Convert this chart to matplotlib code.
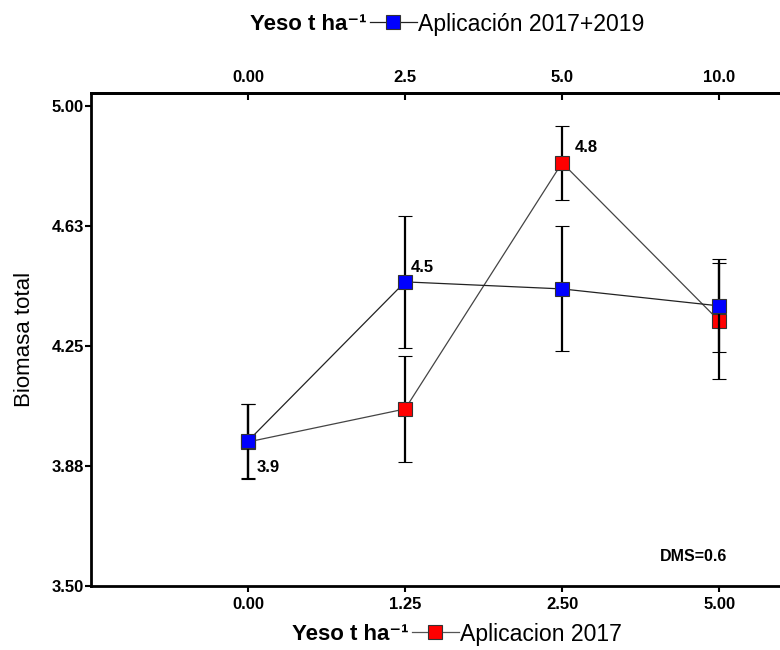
import matplotlib
matplotlib.use('Agg')
import matplotlib.pyplot as plt
from matplotlib.lines import Line2D

plt.rcParams['font.family'] = ['Liberation Sans', 'DejaVu Sans']
NARROW = dict(family=['Liberation Sans Narrow', 'Liberation Sans'], fontweight='bold')

# dosis de yeso (ejes inferior y superior)
x_pos = [0, 1, 2, 3]
dosis_2017 = ['0.00', '1.25', '2.50', '5.00']
dosis_2019 = ['0.00', '2.5', '5.0', '10.0']

# biomasa total y error
bio_2017 = [3.95, 4.053, 4.822, 4.328]
err_2017 = [0.117, 0.167, 0.115, 0.180]
bio_2019 = [3.953, 4.45, 4.428, 4.375]
err_2019 = [0.117, 0.206, 0.195, 0.145]

y_ticks = [3.5, 3.875, 4.25, 4.625, 5.0]
y_labels = ['3.50', '3.88', '4.25', '4.63', '5.00']

fig = plt.figure(figsize=(7.8, 6.5), dpi=100)
ax = fig.add_axes([91 / 780, 1 - 586 / 650, 691 / 780, 493 / 650])

ax.errorbar(x_pos, bio_2017, yerr=err_2017, color='#444444', lw=0.9,
            marker='s', ms=10, mfc='#ff0000', mec='#333333', mew=0.8,
            ecolor='black', elinewidth=1.6, capsize=5, capthick=1.6, zorder=3)
ax.errorbar(x_pos, bio_2019, yerr=err_2019, color='#222222', lw=0.9,
            marker='s', ms=10, mfc='#0000ff', mec='#333333', mew=0.8,
            ecolor='black', elinewidth=1.6, capsize=5, capthick=1.6, zorder=4)

lbl = dict(fontsize=12, fontweight='bold', textcoords='offset points')
ax.annotate('3.9', (x_pos[0], bio_2019[0]), xytext=(6, -19), ha='left', va='center', **lbl)
ax.annotate('4.5', (x_pos[1], bio_2019[1]), xytext=(4, 10), ha='left', va='center', **lbl)
ax.annotate('4.8', (x_pos[2], bio_2017[2]), xytext=(9, 11), ha='left', va='center', **lbl)

ax.text(0.823, 0.059, 'DMS=0.6', transform=ax.transAxes, fontsize=11.5,
        va='center', ha='left', **NARROW)

ax.set_xlim(-1, 3.4)
ax.set_ylim(3.5, 5.04)
ax.set_yticks(y_ticks)
ax.set_yticklabels(y_labels, fontsize=12, **NARROW)
ax.set_xticks(x_pos)
ax.set_xticklabels(dosis_2017, fontsize=12, **NARROW)
ax.tick_params(axis='y', direction='out', length=4, width=1.5, pad=1)
ax.tick_params(axis='x', direction='out', length=4, width=1.5, pad=4)
ax.set_ylabel('Biomasa total', fontsize=16, labelpad=12)

top = ax.secondary_xaxis('top')
top.set_xticks(x_pos)
top.set_xticklabels(dosis_2019, fontsize=12, **NARROW)
top.tick_params(direction='in', length=5, width=1.5, pad=6)
top.spines['top'].set_linewidth(2)

for s in ['left', 'bottom', 'top']:
    ax.spines[s].set_linewidth(2)
ax.spines['right'].set_visible(False)

renderer = fig.canvas.get_renderer()


def etiqueta_leyenda(x_px, y_px, texto, color_linea, color_marca):
    """Texto 'Yeso t ha-1' seguido de la entrada de leyenda de la serie."""
    t = fig.text(x_px / 780, 1 - y_px / 650, 'Yeso t ha⁻¹', fontsize=16,
                 fontweight='bold', ha='left', va='center',
                 family=['Liberation Sans', 'DejaVu Sans'])
    fin = t.get_window_extent(renderer).x1 + 3
    h = Line2D([], [], color=color_linea, lw=0.9, marker='s', ms=10,
               mfc=color_marca, mec='#333333', mew=0.8)
    fig.legend([h], [texto], loc='center left',
               bbox_to_anchor=(fin / 780, 1 - y_px / 650), frameon=False,
               fontsize=16.6, handlelength=2.05, handletextpad=0.05,
               borderpad=0, borderaxespad=0)


etiqueta_leyenda(250, 24, 'Aplicación 2017+2019', '#222222', '#0000ff')
etiqueta_leyenda(292, 634, 'Aplicacion 2017', '#555555', '#ff0000')

fig.savefig('out.png', dpi=100)
